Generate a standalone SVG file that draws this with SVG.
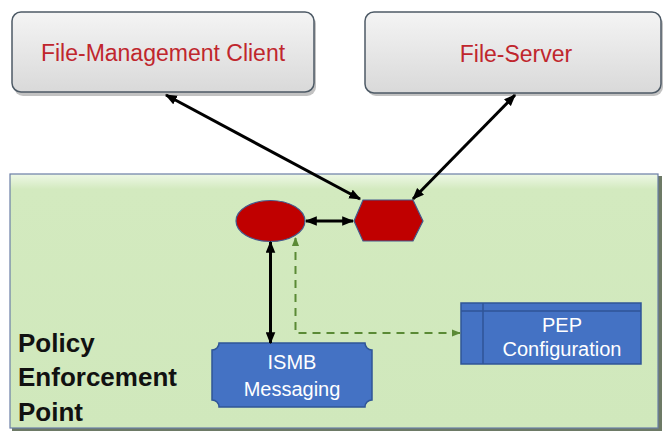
<svg xmlns="http://www.w3.org/2000/svg" width="663" height="432" viewBox="0 0 663 432">
<defs>
<style>
.top{fill:url(#gray);stroke:#4d5a66;stroke-width:1.5}
.shadow{fill:#9a9a9a;opacity:0.6}
.redt{font-family:"Liberation Sans",Arial,sans-serif;font-size:23px;fill:#c0262d;text-anchor:middle}
.whitet{font-family:"Liberation Sans",Arial,sans-serif;font-size:20px;fill:#ffffff;text-anchor:middle}
.pep{font-family:"Liberation Sans",Arial,sans-serif;font-size:26px;font-weight:bold;fill:#111111}
.blue{fill:#4472c4;stroke:#2f5597;stroke-width:1.5}
.red{fill:#c00000;stroke:#44598c;stroke-width:1.2}
.blk{stroke:#000;stroke-width:3;fill:none;marker-start:url(#ah);marker-end:url(#ah)}
.dash{stroke:#5a8a35;stroke-width:2;fill:none;stroke-dasharray:8 6}
</style>
<linearGradient id="gray" x1="0" y1="0" x2="0" y2="1">
<stop offset="0" stop-color="#f4f4f4"/>
<stop offset="1" stop-color="#d9d9d9"/>
</linearGradient>
<linearGradient id="green" x1="0" y1="0" x2="0" y2="1">
<stop offset="0" stop-color="#eef8e6"/>
<stop offset="0.06" stop-color="#d3eabf"/>
<stop offset="1" stop-color="#d0e8bc"/>
</linearGradient>
<marker id="ah" viewBox="0 0 10 8" refX="9" refY="4" markerWidth="12" markerHeight="10" markerUnits="userSpaceOnUse" orient="auto-start-reverse">
<path d="M0,0 L10,4 L0,8 z" fill="#000"/>
</marker>
<marker id="gh" viewBox="0 0 10 8" refX="9" refY="4" markerWidth="9" markerHeight="8" markerUnits="userSpaceOnUse" orient="auto-start-reverse">
<path d="M0,0 L10,4 L0,8 z" fill="#5a8a35"/>
</marker>
</defs>
<rect width="663" height="432" fill="#ffffff"/>

<g id="pep-area">
<rect x="12" y="176" width="650" height="255" fill="#6d7a66"/>
<rect x="10" y="174" width="648" height="254" fill="url(#green)" stroke="#6a7ea6" stroke-width="1.2"/>
<text class="pep" x="18" y="352">Policy</text>
<text class="pep" x="18" y="386">Enforcement</text>
<text class="pep" x="18" y="421">Point</text>
</g>

<g id="fm-client">
<rect class="shadow" x="14" y="15" width="302" height="81" rx="9"/>
<rect class="top" x="12" y="12" width="302" height="80" rx="9"/>
<text class="redt" x="163" y="61">File-Management Client</text>
</g>

<g id="file-server">
<rect class="shadow" x="367" y="15" width="296" height="81" rx="9"/>
<rect class="top" x="365" y="12" width="296" height="81" rx="9"/>
<text class="redt" x="516" y="62">File-Server</text>
</g>

<g id="ellipse-node">
<ellipse class="red" cx="270.5" cy="221" rx="34.5" ry="20.5"/>
</g>

<g id="hexagon-node">
<polygon class="red" points="363,200 413,200 423,221 413,241 363,241 354,221"/>
</g>

<g id="ismb">
<path class="blue" d="M219,343 H365 A7,7 0 0 0 372,350 V400 A7,7 0 0 0 365,407 H219 A7,7 0 0 0 212,400 V350 A7,7 0 0 0 219,343 Z"/>
<text class="whitet" x="292" y="369">ISMB</text>
<text class="whitet" x="292" y="396">Messaging</text>
</g>

<g id="pep-config">
<rect class="blue" x="461" y="303" width="180" height="61"/>
<line x1="461" y1="311" x2="641" y2="311" stroke="#2f5597" stroke-width="1.5"/>
<line x1="483" y1="303" x2="483" y2="364" stroke="#2f5597" stroke-width="1.5"/>
<text class="whitet" x="562" y="332">PEP</text>
<text class="whitet" x="562" y="356">Configuration</text>
</g>

<g id="connectors">
<line class="blk" x1="166" y1="95" x2="360" y2="199"/>
<line class="blk" x1="515" y1="95" x2="413" y2="199"/>
<line class="blk" x1="306" y1="221" x2="353" y2="221"/>
<line class="blk" x1="270.5" y1="242" x2="270.5" y2="343"/>
<path class="dash" d="M295.5,238 V333 H460" marker-start="url(#gh)" marker-end="url(#gh)"/>
</g>
</svg>
